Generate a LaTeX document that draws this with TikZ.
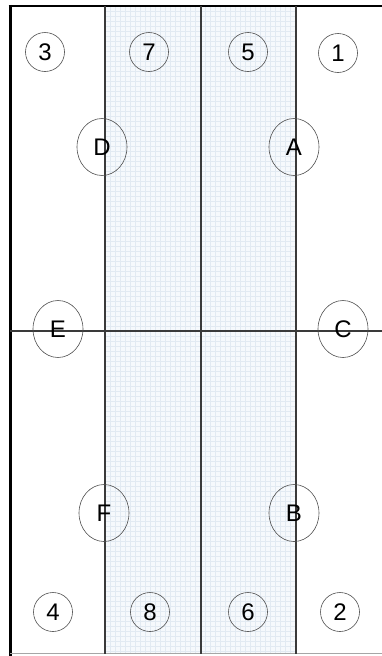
\documentclass[tikz,border=0pt]{standalone}
\usepackage{fontspec}
\setmainfont{Liberation Sans}
\usetikzlibrary{shapes.geometric}
\definecolor{gridline}{HTML}{E2EAF2}
\definecolor{gridfill}{HTML}{F6F9FC}
\definecolor{rule}{HTML}{3A3A3A}

\begin{document}
\begin{tikzpicture}[x=1pt,y=-1pt,
    lab/.style={font=\fontsize{24}{26}\selectfont,inner sep=0pt,draw=rule!90,line width=0.6pt},
    num/.style={lab,circle,minimum size=39pt},
    spot/.style={lab,ellipse,minimum width=50pt,minimum height=57pt},
    rl/.style={rule,line width=1.1pt}]
    \useasboundingbox (0,0) rectangle (382,656);
    % shaded middle strip with grid
    \fill[gridfill] (105,6) rectangle (296,654);
    \foreach \x in {110,115,...,294} \draw[gridline,line width=0.5pt] (\x,6) -- (\x,654);
    \foreach \y in {11,16,...,652} \draw[gridline,line width=0.5pt] (105,\y) -- (296,\y);
    % frame and dividing lines
    \draw[black,line width=2.5pt] (8.5,6) -- (382,6);
    \draw[black,line width=3pt] (10,4.8) -- (10,656);
    \draw[gray!70,line width=0.8pt] (10,653.5) -- (382,653.5);
    \draw[rl] (105,6) -- (105,654);
    \draw[rl,line width=1.4pt] (201,6) -- (201,654);
    \draw[rl] (296,6) -- (296,654);
    \draw[rl] (10,331) -- (382,331);
    % numbered circles
    \node[num] (n3) at (45,52) {3};
    \node[num] (n7) at (149,52) {7};
    \node[num] (n5) at (248,52) {5};
    \node[num] (n1) at (338,53) {1};
    \node[num] (n4) at (53,612) {4};
    \node[num] (n8) at (150,612) {8};
    \node[num] (n6) at (248,612) {6};
    \node[num] (n2) at (340,612) {2};
    % lettered spots
    \node[spot] (pD) at (102,147) {D};
    \node[spot] (pA) at (294,147) {A};
    \node[spot] (pE) at (58,329) {E};
    \node[spot] (pC) at (343,329) {C};
    \node[spot] (pF) at (104,513) {F};
    \node[spot] (pB) at (294,513) {B};
\end{tikzpicture}
\end{document}
